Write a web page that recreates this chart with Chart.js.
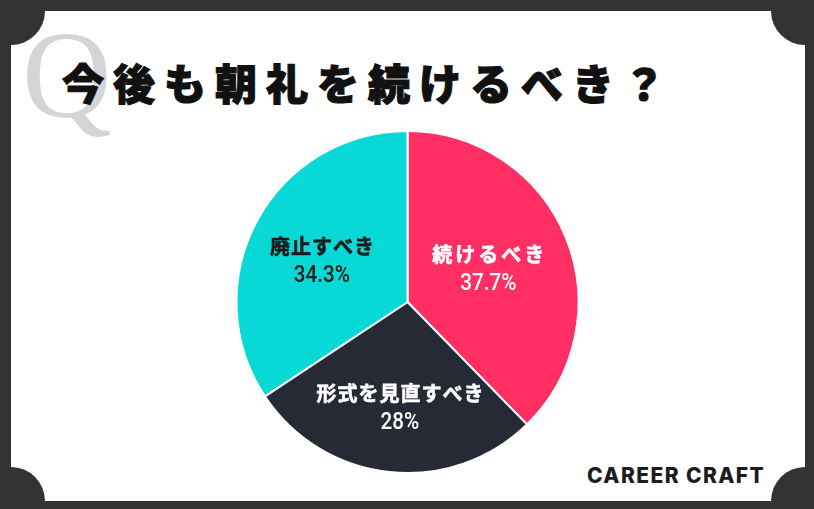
<!DOCTYPE html>
<html lang="ja">
<head>
<meta charset="utf-8">
<script src="https://cdn.jsdelivr.net/npm/chart.js@4/dist/chart.umd.min.js"></script>
<style>
  html, body { margin: 0; padding: 0; }
  body { width: 814px; height: 509px; background: #333333; position: relative; overflow: hidden; }
  .sheet { position: absolute; left: 11px; top: 11px; width: 794px; height: 490px; background: #ffffff; }
  .corner { position: absolute; width: 68px; height: 68px; border-radius: 50%; background: #333333; }
  .q-mark { position: absolute; left: 22px; top: 14px; font-family: "Liberation Serif", "DejaVu Serif", serif;
            font-size: 124px; line-height: 1; color: #d5d5d5; }
  .title { position: absolute; left: 62px; top: 56px; margin: 0; font-family: "Noto Sans CJK JP", sans-serif;
           font-weight: 900; font-size: 42px; line-height: 52px; letter-spacing: 9px; color: #111111;
           -webkit-text-stroke: 1.2px #111111; white-space: nowrap; }
  .brand { position: absolute; left: 587px; top: 463px; font-family: Inter, "Open Sans", sans-serif; font-weight: 800;
           font-size: 21px; line-height: 26px; letter-spacing: 1.4px; color: #1c1c1c; }
  #pie { position: absolute; left: 0; top: 0; }
</style>
</head>
<body>
<div class="sheet"></div>
<div class="corner" style="left:-23px;top:-23px"></div>
<div class="corner" style="left:771px;top:-23px"></div>
<div class="corner" style="left:-23px;top:467px"></div>
<div class="corner" style="left:771px;top:467px"></div>
<div class="q-mark">Q</div>
<h1 class="title">今後も朝礼を続けるべき？</h1>
<div class="brand">CAREER CRAFT</div>
<canvas id="pie" width="814" height="509"></canvas>
<script>
// Survey answers, clockwise from 12 o'clock
const answers = ['続けるべき', '形式を見直すべき', '廃止すべき'];
const shares = [37.7, 28, 34.3];
const sliceColors = ['#ff2e63', '#252a34', '#08d9d6'];
const labelColors = ['#ffffff', '#ffffff', '#1c1c1c'];

// Where each label sits inside its slice: fraction of the radius and a small turn from the mid-angle (degrees)
const labelPlacement = [
  { radius: 0.51, turn: 0, spacing: 3 },
  { radius: 0.62, turn: -2, spacing: 1 },
  { radius: 0.555, turn: -2.7, spacing: 1 }
];

const sliceLabels = {
  id: 'sliceLabels',
  afterDatasetsDraw(chart) {
    const ctx = chart.ctx;
    const arcs = chart.getDatasetMeta(0).data;
    arcs.forEach((arc, i) => {
      const p = arc.getProps(['x', 'y', 'startAngle', 'endAngle', 'outerRadius'], true);
      const place = labelPlacement[i];
      const a = (p.startAngle + p.endAngle) / 2 + place.turn * Math.PI / 180;
      const r = p.outerRadius * place.radius;
      const cx = p.x + Math.cos(a) * r;
      const cy = p.y + Math.sin(a) * r;
      ctx.save();
      ctx.fillStyle = labelColors[i];
      ctx.strokeStyle = labelColors[i];
      ctx.lineWidth = 0.6;
      ctx.textAlign = 'center';
      ctx.textBaseline = 'middle';
      ctx.font = '700 20px "Noto Sans CJK JP", sans-serif';
      ctx.letterSpacing = place.spacing + 'px';
      ctx.fillText(answers[i], cx + place.spacing / 2, cy - 14.5);
      ctx.strokeText(answers[i], cx + place.spacing / 2, cy - 14.5);
      ctx.font = '500 24px Roboto, sans-serif';
      ctx.letterSpacing = '0px';
      ctx.translate(cx, cy + 15);
      ctx.scale(0.86, 1);
      ctx.fillText(shares[i] + '%', 0, 0);
      ctx.restore();
    });
  }
};

new Chart(document.getElementById('pie'), {
  type: 'pie',
  data: {
    labels: answers,
    datasets: [{
      data: shares,
      backgroundColor: sliceColors,
      borderColor: '#ffffff',
      borderWidth: 2
    }]
  },
  options: {
    responsive: false,
    animation: false,
    layout: { padding: { left: 235, right: 234, top: 130, bottom: 35 } },
    plugins: { legend: { display: false }, tooltip: { enabled: false } }
  },
  plugins: [sliceLabels]
});
</script>
</body>
</html>
